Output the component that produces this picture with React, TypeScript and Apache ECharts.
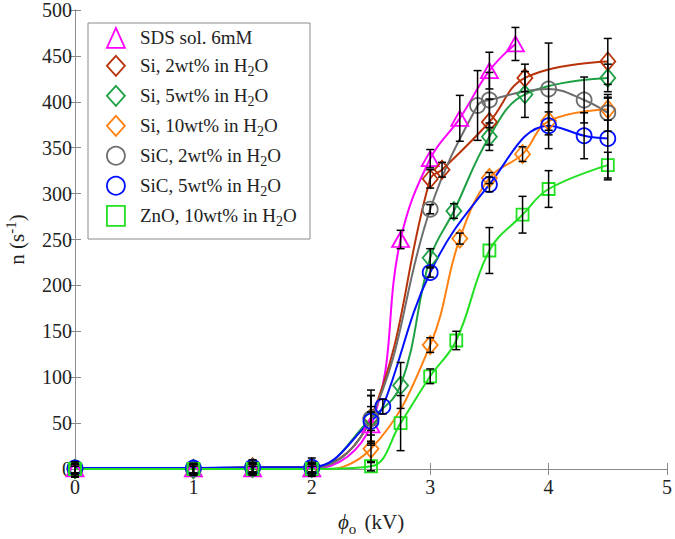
import React, { useEffect, useRef } from 'react';
import * as echarts from 'echarts';

const FONT = 'Liberation Serif';

const seriesNames = [
  'SDS sol. 6mM',
  'Si, 2wt% in H2O',
  'Si, 5wt% in H2O',
  'Si, 10wt% in H2O',
  'SiC, 2wt% in H2O',
  'SiC, 5wt% in H2O',
  'ZnO, 10wt% in H2O',
];
const colors = ['#FF00FF', '#B8330A', '#1FA045', '#FF8010', '#6E6E6E', '#0010FF', '#22E022'];
const symbols = ['triangle', 'diamond', 'diamond', 'diamond', 'circle', 'circle', 'rect'];
const symbolSizes: number[][] = [[17, 15], [15, 18], [15, 18], [15, 18], [15, 15], [15, 15], [12, 12]];

// x values (kV)
const xSDS = [0, 1, 1.5, 2, 2.5, 2.75, 3, 3.25, 3.5, 3.72];
const ySDS = [0, 0, 0, 0, 48, 250, 338, 382, 434, 463];
const eSDS = [6, 5, 5, 5, 20, 10, 10, 25, 20, 18];

const xSi2 = [0, 1, 1.5, 2, 2.5, 3, 3.1, 3.5, 3.8, 4.5];
const ySi2 = [0, 0, 2, 2, 56, 316, 326, 378, 426, 444];
const eSi2 = [8, 6, 8, 10, 30, 10, 8, 25, 15, 25];

const xSi5 = [0, 1, 1.5, 2, 2.5, 2.75, 3, 3.2, 3.5, 3.8, 4.5];
const ySi5 = [0, 0, 1, 1, 55, 91, 230, 281, 362, 408, 426];
const eSi5 = [8, 6, 6, 6, 25, 25, 10, 8, 15, 25, 15];

const xSi10 = [0, 1, 1.5, 2, 2.5, 3, 3.25, 3.5, 3.78, 4, 4.5];
const ySi10 = [-3, -2, -2, -2, 22, 135, 251, 317, 343, 379, 392];
const eSi10 = [6, 5, 5, 5, 15, 8, 6, 6, 8, 10, 12];

const xSiC2 = [0, 1, 1.5, 2, 2.5, 3, 3.4, 3.5, 4, 4.3, 4.5];
const ySiC2 = [0, 0, 1, 1, 55, 283, 396, 402, 414, 402, 388];
const eSiC2 = [5, 5, 5, 5, 25, 5, 38, 30, 50, 25, 20];

const xSiC5 = [0, 1, 1.5, 2, 2.5, 2.6, 3, 3.5, 4, 4.3, 4.5];
const ySiC5 = [1, 1, 2, 2, 52, 68, 214, 310, 374, 363, 360];
const eSiC5 = [5, 5, 5, 5, 10, 8, 5, 8, 25, 25, 45];

const xZnO = [0, 1, 1.5, 2, 2.5, 2.75, 3, 3.22, 3.5, 3.78, 4, 4.5];
const yZnO = [0, 0, 0, 0, 3, 50, 101, 140, 238, 277, 305, 331];
const eZnO = [5, 5, 5, 5, 5, 30, 8, 10, 25, 20, 20, 14];

const xs = [xSDS, xSi2, xSi5, xSi10, xSiC2, xSiC5, xZnO];
const ys = [ySDS, ySi2, ySi5, ySi10, ySiC2, ySiC5, yZnO];
const es = [eSDS, eSi2, eSi5, eSi10, eSiC2, eSiC5, eZnO];

const xTicks = [0, 1, 2, 3, 4, 5];
const yTicksInterval = 50;

export default function App() {
  const ref = useRef<HTMLDivElement>(null);
  useEffect(() => {
    document.body.style.margin = '0';
    const chart = echarts.init(ref.current!, undefined, { renderer: 'svg' });

    const lineSeries = seriesNames.map((name, i) => ({
      name,
      type: 'line',
      smooth: 0.4,
      data: xs[i].map((x, j) => [x, ys[i][j]]),
      symbol: symbols[i],
      symbolSize: symbolSizes[i],
      showAllSymbol: true,
      lineStyle: { color: colors[i], width: 2 },
      itemStyle: { color: 'rgba(255,255,255,0)', borderColor: colors[i], borderWidth: 1.8 },
      z: 3,
    }));

    const errData: number[][] = [];
    xs.forEach((arr, i) => arr.forEach((x, j) => errData.push([x, ys[i][j], es[i][j]])));

    const errSeries = {
      type: 'custom',
      name: 'err',
      data: errData,
      encode: { x: 0, y: 1 },
      z: 10,
      renderItem: (params: any, api: any) => {
        const x = api.value(0);
        const y = api.value(1);
        const e = api.value(2);
        const top = api.coord([x, y + e]);
        const bot = api.coord([x, y - e]);
        const hw = 4;
        const st = { stroke: '#000', lineWidth: 1.5 };
        return {
          type: 'group',
          children: [
            { type: 'line', shape: { x1: top[0], y1: top[1], x2: bot[0], y2: bot[1] }, style: st },
            { type: 'line', shape: { x1: top[0] - hw, y1: top[1], x2: top[0] + hw, y2: top[1] }, style: st },
            { type: 'line', shape: { x1: bot[0] - hw, y1: bot[1], x2: bot[0] + hw, y2: bot[1] }, style: st },
          ],
        };
      },
    };

    const axisCommon = {
      axisLine: { show: true, lineStyle: { color: '#8a8a8a', width: 1 } },
      axisTick: { show: true, inside: true, length: 6, lineStyle: { color: '#8a8a8a' } },
      splitLine: { show: false },
    };

    const option: any = {
      animation: false,
      backgroundColor: '#fff',
      grid: { left: 75, right: 8, top: 10, bottom: 70, outerBoundsMode: 'none', containLabel: false },
      xAxis: [
        {
          type: 'value', min: xTicks[0], max: xTicks[xTicks.length - 1], interval: 1,
          ...axisCommon,
          axisLabel: { fontFamily: FONT, fontSize: 20, color: '#222', margin: 8 },
          name: '{i|ϕ}{sub|o} (kV)',
          nameLocation: 'middle',
          nameGap: 38,
          nameTextStyle: {
            fontFamily: FONT, fontSize: 21, color: '#222',
            rich: {
              i: { fontFamily: FONT, fontSize: 21, fontStyle: 'italic', color: '#222' },
              sub: { fontFamily: FONT, fontSize: 15, color: '#222', padding: [14, 3, 0, 0] },
            },
          },
        },
        {
          type: 'value', position: 'top', min: 0, max: 5, interval: 1,
          ...axisCommon, axisLabel: { show: false },
        },
      ],
      yAxis: [
        {
          type: 'value', min: 0, max: 500, interval: yTicksInterval,
          ...axisCommon,
          axisLabel: { fontFamily: FONT, fontSize: 20, color: '#222', margin: 3 },
          name: 'n (s{sup|-1})',
          nameLocation: 'middle',
          nameGap: 45,
          nameTextStyle: {
            fontFamily: FONT, fontSize: 21, color: '#222',
            rich: {
              sup: { fontFamily: FONT, fontSize: 15, color: '#222', padding: [0, 0, 12, 0] },
            },
          },
        },
        {
          type: 'value', position: 'right', min: 0, max: 500, interval: 50,
          ...axisCommon, axisLabel: { show: false },
        },
      ],
      legend: {
        orient: 'vertical',
        left: 106,
        top: 27,
        padding: 0,
        itemWidth: 18,
        itemHeight: 20,
        itemGap: 4,
        data: seriesNames.map((name, i) => ({
          name,
          icon: symbols[i],
          itemStyle: { color: 'rgba(255,255,255,0)', borderColor: colors[i], borderWidth: 1.8 },
        })),
        formatter: (name: string) => {
          const k = name.indexOf('H2O');
          if (k < 0) return '{t|' + name + '}';
          return '{t|' + name.slice(0, k + 1) + '}{sub|2}{t|O}';
        },
        textStyle: {
          fontFamily: FONT, fontSize: 19, color: '#222', padding: [0, 0, 0, 10],
          rich: {
            t: { fontFamily: FONT, fontSize: 19, color: '#222', lineHeight: 20 },
            sub: { fontFamily: FONT, fontSize: 14, color: '#222', lineHeight: 8, padding: [12, 0, 0, 0] },
          },
        },
        z: 6,
      },
      graphic: [
        {
          type: 'rect',
          shape: { x: 88, y: 23, width: 222, height: 216 },
          style: { fill: '#fff', stroke: '#8a8a8a', lineWidth: 1 },
          z: 5,
        },
      ],
      series: [...lineSeries, errSeries],
    };
    chart.setOption(option);
    return () => chart.dispose();
  }, []);
  return <div ref={ref} style={{ position: 'absolute', left: 0, top: 0, width: 675, height: 539 }} />;
}
